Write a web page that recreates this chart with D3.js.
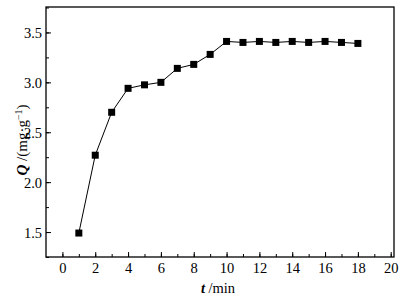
<!DOCTYPE html>
<html><head><meta charset="utf-8">
<script src="https://cdn.jsdelivr.net/npm/d3@7"></script>
<style>body{margin:0;background:#fff}svg{display:block}text{font-family:"Liberation Serif","Times New Roman",serif;fill:#000}</style>
</head><body>
<svg id="c" width="419" height="299"></svg>
<script>
const times = [1,2,3,4,5,6,7,8,9,10,11,12,13,14,15,16,17,18];
const qValues = [1.49,2.27,2.70,2.94,2.975,3.00,3.14,3.18,3.28,3.41,3.40,3.41,3.40,3.41,3.40,3.41,3.40,3.39];
const xTickLabels = [0,2,4,6,8,10,12,14,16,18,20];
const yTickLabels = [1.5,2.0,2.5,3.0,3.5];

const svg = d3.select("#c");
const L=46, T=7, R=394, B=257;
const x = d3.scaleLinear().domain([-1.0,20.2]).range([L,R]);
const y = d3.scaleLinear().domain([1.25,3.755]).range([B,T]);

svg.append("rect").attr("x",L).attr("y",T).attr("width",R-L).attr("height",B-T)
  .attr("fill","none").attr("stroke","#000").attr("stroke-width",1.3);

// x axis
const xMinor = d3.range(0,21,1);
svg.append("g").attr("transform",`translate(0,${B})`)
  .call(d3.axisTop(x).tickValues(xMinor).tickSize(3).tickFormat(""))
  .call(g=>{g.select(".domain").remove();g.selectAll("line").attr("stroke-width",1);});
const gx = svg.append("g").attr("transform",`translate(0,${B})`)
  .call(d3.axisTop(x).tickValues(xTickLabels).tickSize(5).tickFormat(d3.format("d")));
gx.select(".domain").remove();
gx.selectAll("line").attr("stroke-width",1);
gx.selectAll("text").attr("y",16).attr("dy","0").style("font-size","14.5px").attr("text-anchor","middle");

// y axis
const yMinor = d3.range(1.25,3.76,0.25);
svg.append("g").attr("transform",`translate(${L},0)`)
  .call(d3.axisRight(y).tickValues(yMinor).tickSize(3).tickFormat(""))
  .call(g=>{g.select(".domain").remove();g.selectAll("line").attr("stroke-width",1);});
const gy = svg.append("g").attr("transform",`translate(${L},0)`)
  .call(d3.axisRight(y).tickValues(yTickLabels).tickSize(5).tickFormat(d3.format(".1f")));
gy.select(".domain").remove();
gy.selectAll("line").attr("stroke-width",1);
gy.selectAll("text").attr("x",-4).attr("dy","0.35em").style("font-size","14.5px").attr("text-anchor","end");

// line
svg.append("path").datum(times.map((t,i)=>[t,qValues[i]]))
  .attr("fill","none").attr("stroke","#000").attr("stroke-width",1)
  .attr("d",d3.line().x(d=>x(d[0])).y(d=>y(d[1])));
const s=7;
svg.append("g").selectAll("rect").data(times.map((t,i)=>[t,qValues[i]])).join("rect")
  .attr("x",d=>x(d[0])-s/2).attr("y",d=>y(d[1])-s/2).attr("width",s).attr("height",s).attr("fill","#000");

// labels
const xl = svg.append("text").attr("x",218).attr("y",293).attr("text-anchor","middle").style("font-size","14.5px");
xl.append("tspan").attr("font-style","italic").attr("font-weight","bold").text("t");
xl.append("tspan").text(" /min");

const yl = svg.append("text").attr("transform","translate(27,140) rotate(-90)").attr("text-anchor","middle").style("font-size","15px");
yl.append("tspan").attr("font-style","italic").attr("font-weight","bold").text("Q");
yl.append("tspan").text(" /(mg·g");
yl.append("tspan").attr("dy","-5").style("font-size","10px").text("−1");
yl.append("tspan").attr("dy","5").text(")");
</script>
</body></html>
